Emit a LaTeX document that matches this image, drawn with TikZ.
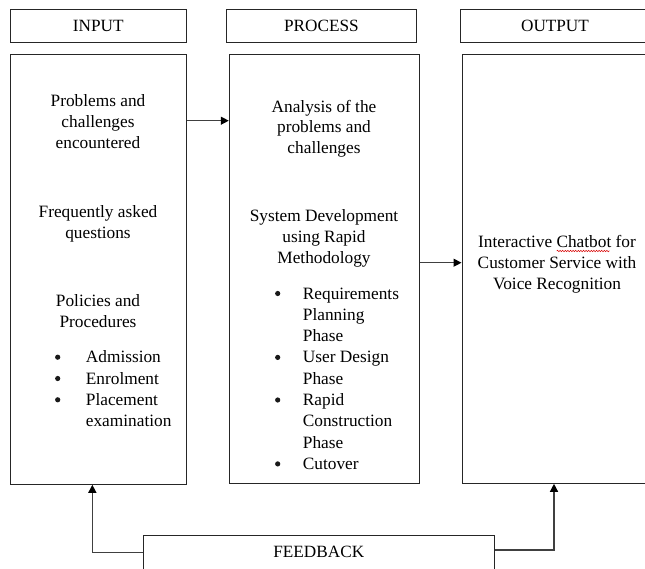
\documentclass[tikz,border=0pt]{standalone}
\usepackage{fontspec}
\setmainfont{Liberation Serif}
\usetikzlibrary{arrows.meta,decorations.pathmorphing}

\begin{document}
\begin{tikzpicture}[x=1pt,y=-1pt,
  box/.style={draw=black!85, line width=1pt, inner sep=0pt,
              font=\fontsize{17.2}{21}\selectfont},
  txt/.style={inner sep=0pt, anchor=base, font=\fontsize{17.3}{21}\selectfont},
  ltxt/.style={txt, anchor=base west},
  dot/.style={circle, fill=black!90, inner sep=0pt, minimum size=5.2pt},
  link/.style={draw=black!75, line width=1.3pt,
               -{Triangle[length=8pt,width=8pt,fill=black,color=black]}}
]
\useasboundingbox (0,0) rectangle (645,569);
\fill[white] (0,0) rectangle (645,569);

% column headings
\node[box, minimum width=175.5pt, minimum height=33.4pt] (hin)   at (98.25,26) {INPUT};
\node[box, minimum width=189.8pt, minimum height=33.4pt] (hproc) at (321.4,26) {PROCESS};
\node[box, minimum width=188.6pt, minimum height=33.4pt] (hout)  at (555,26)   {OUTPUT};

% column bodies
\node[box, minimum width=175.3pt, minimum height=429.3pt] (inbox)   at (98.35,269.65) {};
\node[box, minimum width=189.7pt, minimum height=428.3pt] (procbox) at (324.15,269.15) {};
\node[box, minimum width=190pt,   minimum height=428.3pt] (outbox)  at (557,269.15) {};

% feedback box
\node[box, minimum width=351pt, minimum height=34pt] (fb) at (318.8,552) {FEEDBACK};

% input column text
\foreach \y/\t [count=\i] in {106.7/Problems and, 127.9/challenges, 149/encountered}
  \node[txt] (inp-a\i) at (98,\y) {\t};
\foreach \y/\t [count=\i] in {218/Frequently asked, 238.5/questions}
  \node[txt] (inp-b\i) at (98,\y) {\t};
\foreach \y/\t [count=\i] in {306.7/Policies and, 327.3/Procedures}
  \node[txt] (inp-c\i) at (98,\y) {\t};
\foreach \y/\t [count=\i] in {362.7/Admission, 384/Enrolment, 405.3/Placement, 426.6/examination}
  \node[ltxt] (inp-d\i) at (85.7,\y) {\t};
\foreach \y [count=\i] in {362.7, 384, 405.3}
  \node[dot] (inp-bul\i) at (57.7,\y-5.5) {};

% process column text
\foreach \y/\t [count=\i] in {112.3/Analysis of the, 132.8/problems and, 153.3/challenges}
  \node[txt] (proc-a\i) at (324,\y) {\t};
\foreach \y/\t [count=\i] in {221.7/System Development, 242.5/using Rapid, 263.3/Methodology}
  \node[txt] (proc-b\i) at (324,\y) {\t};
\foreach \y/\t [count=\i] in {299/Requirements, 320.3/Planning, 341.6/Phase, 362.9/User Design,
    384.2/Phase, 405.5/Rapid, 426.8/Construction, 448.1/Phase, 469.4/Cutover}
  \node[ltxt] (proc-c\i) at (302.7,\y) {\t};
\foreach \y [count=\i] in {299, 362.9, 405.5, 469.4}
  \node[dot] (proc-bul\i) at (277.7,\y-5.5) {};

% output column text
\foreach \y/\t [count=\i] in {247.7/Interactive Chatbot for, 268.5/Customer Service with, 289.3/Voice Recognition}
  \node[txt] (out-a\i) at (557,\y) {\t};
% spell-check underline beneath "Chatbot"
\draw[red!85!black, line width=0.5pt, decorate,
      decoration={snake, amplitude=0.7pt, segment length=2.6pt}]
  (556.7,251) -- (609.5,251);

% connectors
\coordinate (lvl1) at (0,120.7);
\coordinate (lvl2) at (0,262.7);
\draw[link] (inbox.east |- lvl1) -- (procbox.west |- lvl1);
\draw[link] (procbox.east |- lvl2) -- (outbox.west |- lvl2);
\draw[link] ([yshift=-0.3pt]fb.west) -| ([xshift=-6pt]inbox.south);
\draw[link] ([yshift=2pt]fb.east) -| ([xshift=-3pt]outbox.south);
\end{tikzpicture}
\end{document}
